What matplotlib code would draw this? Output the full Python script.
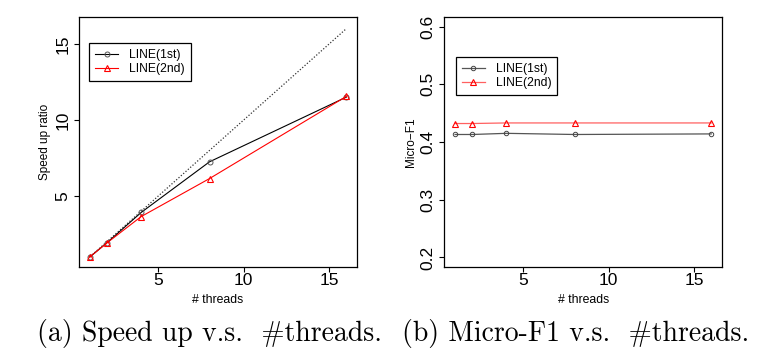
import matplotlib.pyplot as plt

plt.rcParams['font.family'] = ['Liberation Sans', 'DejaVu Sans']

# data
threads = [1, 2, 4, 8, 16]
speedup_1st = [1.0, 1.93, 3.92, 7.25, 11.5]
speedup_2nd = [1.0, 1.92, 3.65, 6.15, 11.55]
ideal = [1, 16]
f1_1st = [0.413, 0.413, 0.415, 0.413, 0.414]
f1_2nd = [0.432, 0.432, 0.433, 0.433, 0.433]

fig = plt.figure(figsize=(7.6, 3.53), dpi=100)
ax1 = fig.add_axes([0.104, 0.2445, 0.366, 0.7065])
ax2 = fig.add_axes([0.5846, 0.2445, 0.3654, 0.7065])


def style(ax):
    ax.tick_params(direction='out', length=3.6, width=0.8, labelsize=12.5)
    ax.tick_params(axis='x', pad=1)
    ax.tick_params(axis='y', pad=2.5)
    for lab in ax.get_yticklabels():
        lab.set_rotation(90)
        lab.set_va('center')
    for s in ax.spines.values():
        s.set_linewidth(0.9)
    ax.set_xlabel('# threads', fontsize=8.8, labelpad=4)


def legend(ax, x, y):
    leg = ax.legend(loc='upper left', bbox_to_anchor=(x, y), borderaxespad=0,
                    fancybox=False, edgecolor='black', framealpha=1,
                    fontsize=8.7, handlelength=1.9, handletextpad=0.9,
                    borderpad=0.5, labelspacing=0.2)
    leg.get_frame().set_linewidth(0.9)


# (a) speed up
ax1.plot(ideal, ideal, color='#333333', linestyle=(0, (1, 1.5)), linewidth=0.9)
ax1.plot(threads, speedup_1st, color='black', linewidth=0.8, marker='o',
         markersize=3.6, markerfacecolor='none', markeredgecolor='#555555',
         markeredgewidth=0.7, label='LINE(1st)')
ax1.plot(threads, speedup_2nd, color='red', linewidth=0.8, marker='^',
         markersize=4.2, markerfacecolor='none', markeredgewidth=0.8,
         label='LINE(2nd)')
ax1.set_xlim(0.37, 16.63)
ax1.set_ylim(0.36, 16.74)
ax1.set_xticks([5, 10, 15])
ax1.set_yticks([5, 10, 15])
ax1.set_ylabel('Speed up ratio', fontsize=8.5, labelpad=3)
style(ax1)
legend(ax1, 0.036, 0.897)

# (b) micro-F1
ax2.plot(threads, f1_1st, color='#555555', linewidth=0.9, marker='o',
         markersize=3.2, markerfacecolor='none', markeredgecolor='#444444',
         markeredgewidth=0.7, label='LINE(1st)')
ax2.plot(threads, f1_2nd, color='#ff6060', linewidth=0.9, marker='^',
         markersize=4.2, markerfacecolor='none', markeredgecolor='red',
         markeredgewidth=0.8, label='LINE(2nd)')
ax2.set_xlim(0.37, 16.63)
ax2.set_ylim(0.184, 0.616)
ax2.set_xticks([5, 10, 15])
ax2.set_yticks([0.2, 0.3, 0.4, 0.5, 0.6])
ax2.set_yticklabels(['0.2', '0.3', '0.4', '0.5', '0.6'])
ax2.set_ylabel('Micro\u2212F1', fontsize=8.5, labelpad=3)
style(ax2)
legend(ax2, 0.041, 0.842)

cap = ['cmr10', 'DejaVu Serif']
fig.text(0.049, 0.035, '(a) Speed up v.s.  #threads.', fontsize=20,
         family=cap, va='baseline')
fig.text(0.529, 0.035, '(b) Micro-F1 v.s.  #threads.', fontsize=20,
         family=cap, va='baseline')

fig.savefig('out.png', dpi=100)
